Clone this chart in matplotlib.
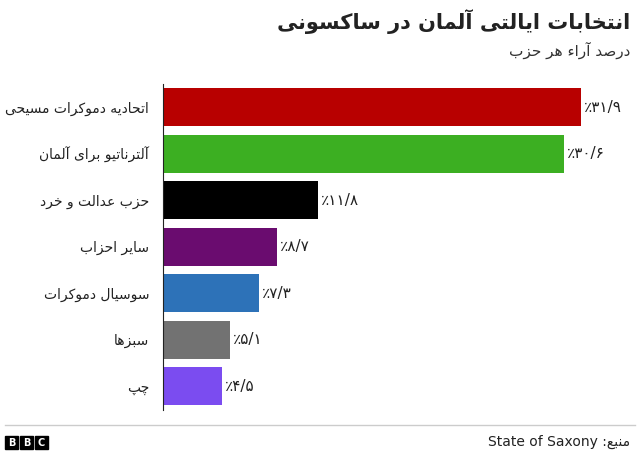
import matplotlib
matplotlib.use("Agg")
import matplotlib.pyplot as plt
from matplotlib.patches import Rectangle

categories = ["اتحادیه دموکرات مسیحی", "آلترناتیو برای آلمان", "حزب عدالت و خرد",
              "سایر احزاب", "سوسیال دموکرات", "سبزها", "چپ"]
values = [31.9, 30.6, 11.8, 8.7, 7.3, 5.1, 4.5]
colors = ["#b80000", "#3caf22", "#000000", "#6a0c6f", "#2d72b8", "#727272", "#7b4cf0"]
title = "انتخابات ایالتی آلمان در ساکسونی"
subtitle = "درصد آراء هر حزب"
source_word = "منبع"

FORMS = {
 'ء': (0xFE80,None,None,None), 'آ': (0xFE81,0xFE82,None,None), 'ا': (0xFE8D,0xFE8E,None,None),
 'ب': (0xFE8F,0xFE90,0xFE91,0xFE92), 'ت': (0xFE95,0xFE96,0xFE97,0xFE98), 'ث': (0xFE99,0xFE9A,0xFE9B,0xFE9C),
 'ج': (0xFE9D,0xFE9E,0xFE9F,0xFEA0), 'ح': (0xFEA1,0xFEA2,0xFEA3,0xFEA4), 'خ': (0xFEA5,0xFEA6,0xFEA7,0xFEA8),
 'د': (0xFEA9,0xFEAA,None,None), 'ذ': (0xFEAB,0xFEAC,None,None), 'ر': (0xFEAD,0xFEAE,None,None),
 'ز': (0xFEAF,0xFEB0,None,None), 'س': (0xFEB1,0xFEB2,0xFEB3,0xFEB4), 'ش': (0xFEB5,0xFEB6,0xFEB7,0xFEB8),
 'ص': (0xFEB9,0xFEBA,0xFEBB,0xFEBC), 'ض': (0xFEBD,0xFEBE,0xFEBF,0xFEC0), 'ط': (0xFEC1,0xFEC2,0xFEC3,0xFEC4),
 'ظ': (0xFEC5,0xFEC6,0xFEC7,0xFEC8), 'ع': (0xFEC9,0xFECA,0xFECB,0xFECC), 'غ': (0xFECD,0xFECE,0xFECF,0xFED0),
 'ف': (0xFED1,0xFED2,0xFED3,0xFED4), 'ق': (0xFED5,0xFED6,0xFED7,0xFED8), 'ک': (0xFB8E,0xFB8F,0xFB90,0xFB91),
 'گ': (0xFB92,0xFB93,0xFB94,0xFB95), 'ل': (0xFEDD,0xFEDE,0xFEDF,0xFEE0), 'م': (0xFEE1,0xFEE2,0xFEE3,0xFEE4),
 'ن': (0xFEE5,0xFEE6,0xFEE7,0xFEE8), 'ه': (0xFEE9,0xFEEA,0xFEEB,0xFEEC), 'و': (0xFEED,0xFEEE,None,None),
 'ی': (0xFBFC,0xFBFD,0xFBFE,0xFBFF), 'پ': (0xFB56,0xFB57,0xFB58,0xFB59), 'چ': (0xFB7A,0xFB7B,0xFB7C,0xFB7D),
 'ژ': (0xFB8A,0xFB8B,None,None),
}

def shape(s):
    out = []
    n = len(s)
    for i, c in enumerate(s):
        if c not in FORMS:
            out.append(c); continue
        f = FORMS[c]
        prev = s[i-1] if i > 0 else None
        nxt = s[i+1] if i+1 < n else None
        jp = prev in FORMS and FORMS[prev][2] is not None
        jn = nxt in FORMS and f[2] is not None and FORMS[nxt][1] is not None
        if jp and jn: code = f[3]
        elif jp: code = f[1]
        elif jn: code = f[2]
        else: code = f[0]
        out.append(chr(code))
    return "".join(out)[::-1]

def fa_num(v):
    s = f"{v:.1f}".replace(".", "/")
    return "٪" + "".join(chr(0x06F0 + int(ch)) if ch.isdigit() else ch for ch in s)

plt.rcParams['font.family'] = ['DejaVu Sans']
fig = plt.figure(figsize=(6.4, 4.62), dpi=100)
ax = fig.add_axes([163/640, 1-409.5/462, 437/640, 325.5/462])
y = list(range(len(values)))
ax.barh(y, values, height=0.82, color=colors)
ax.set_ylim(len(values)-0.5, -0.5)
ax.set_xlim(0, 31.9*437/418)
for s in ["top", "right", "bottom"]:
    ax.spines[s].set_visible(False)
ax.spines["left"].set_color("#222222")
ax.set_xticks([])
ax.set_yticks(y)
ax.set_yticklabels([shape(c) for c in categories], fontsize=10, color="#222")
ax.tick_params(axis="y", length=0, pad=10)
for yi, v in zip(y, values):
    ax.text(v + 0.25, yi, fa_num(v), va="center", ha="left", fontsize=11, color="#222")

fig.text(630/640, 1-22/462, shape(title), ha="right", va="center", fontsize=15, fontweight="bold", color="#222")
fig.text(630/640, 1-50/462, shape(subtitle), ha="right", va="center", fontsize=11, color="#333")
fig.add_artist(plt.Line2D([5/640, 635/640], [1-425/462, 1-425/462], color="#cccccc", lw=1))
fig.text(630/640, 1-442/462, "State of Saxony :" + shape(source_word), ha="right", va="center", fontsize=10, color="#222")
for i, ch in enumerate("BBC"):
    x0 = (5 + i*15)/640
    fig.add_artist(Rectangle((x0, 1-449/462), 13/640, 13/462, color="black", transform=fig.transFigure))
    fig.text(x0 + 6.5/640, 1-442.5/462, ch, ha="center", va="center", fontsize=7, fontweight="bold", color="white")

fig.savefig("out.png", dpi=100, facecolor="white")
